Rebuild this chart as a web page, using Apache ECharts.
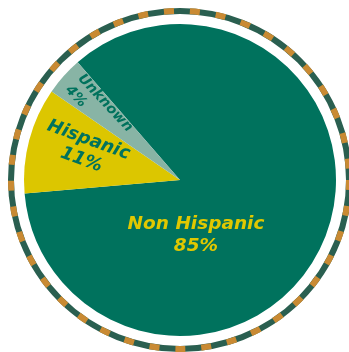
<!DOCTYPE html>
<html>
<head>
<meta charset="utf-8">
<script src="https://cdn.jsdelivr.net/npm/echarts@6/dist/echarts.min.js"></script>
<style>
  html, body { margin: 0; padding: 0; background: #fff; }
  #chart { width: 349px; height: 352px; }
</style>
</head>
<body>
<div id="chart"></div>
<script>
const categories = ["Non Hispanic", "Hispanic", "Unknown"];
const values = [85, 11, 4];
const sliceColors = ["#00725d", "#dcc600", "#88b4a5"];
const labelColors = ["#e0c800", "#00725d", "#00725d"];

const cx = 180, cy = 180, radius = 156;

// where each label sits (px) and how it is turned
const labelPlace = [
  { x: 196, y: 235, rotate: 0, align: "center", size: 18.5 },
  { x: 85, y: 150, rotate: -20, align: "center", size: 18 },
  { x: 74, y: 82, rotate: -47, align: "left", size: 14 },
];

const chart = echarts.init(document.getElementById("chart"));

const option = {
  animation: false,
  graphic: [
    {
      type: "circle",
      shape: { cx: cx, cy: cy, r: 169 },
      style: { fill: "none", stroke: "#2a5f50", lineWidth: 6 },
      silent: true,
    },
    {
      type: "circle",
      shape: { cx: cx, cy: cy, r: 169 },
      style: {
        fill: "none",
        stroke: "#c98a33",
        lineWidth: 6,
        lineDash: [10, 16],
      },
      silent: true,
    },
  ],
  series: [
    {
      type: "pie",
      center: [cx, cy],
      radius: [0, radius],
      startAngle: 131,
      clockwise: true,
      silent: true,
      itemStyle: { borderWidth: 0 },
      label: {
        show: true,
        position: "inside",
        fontFamily: "DejaVu Sans",
        fontStyle: "italic",
        fontWeight: "bold",
        formatter: (p) => p.name + "\n" + p.value + "%",
      },
      labelLine: { show: false },
      labelLayout: (params) => {
        const l = labelPlace[params.dataIndex];
        return {
          x: l.x,
          y: l.y,
          rotate: l.rotate,
          align: l.align,
          verticalAlign: "middle",
        };
      },
      data: categories.map((name, i) => ({
        name: name,
        value: values[i],
        itemStyle: { color: sliceColors[i] },
        label: {
          color: labelColors[i],
          fontSize: labelPlace[i].size,
          lineHeight: labelPlace[i].size + 3,
        },
      })),
    },
  ],
};

chart.setOption(option);
</script>
</body>
</html>
